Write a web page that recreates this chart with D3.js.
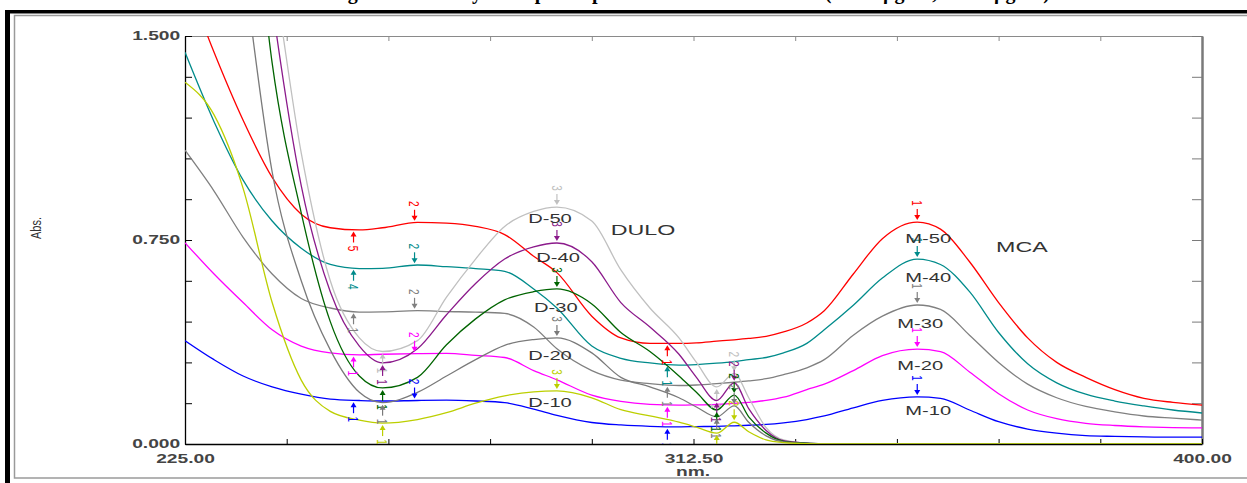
<!DOCTYPE html>
<html>
<head>
<meta charset="utf-8">
<script src="https://cdn.jsdelivr.net/npm/d3@7"></script>
<style>
  body { margin: 0; background: #fff; }
  svg { display: block; }
</style>
</head>
<body>
<div id="chart"></div>
<script>
// wavelengths (nm) shared by every spectrum
var wavelengths = [225,230,235,240,245,250,255,259,265,270,275,280,285,289,295,300,305,310,313,316.5,319.5,322,325,328,332,335,340,345,351,355,360,365,370,375,380,385,390,395,400];

// MCA containing spectra
var m50 = [1.72,1.44,1.19,0.98,0.845,0.795,0.787,0.795,0.815,0.812,0.80,0.77,0.69,0.63,0.47,0.39,0.37,0.37,0.372,0.378,0.383,0.388,0.396,0.412,0.445,0.49,0.625,0.755,0.816,0.79,0.67,0.52,0.39,0.30,0.245,0.20,0.168,0.153,0.143];
var m40 = [1.44,1.185,0.97,0.82,0.72,0.66,0.645,0.646,0.658,0.652,0.645,0.635,0.57,0.50,0.36,0.315,0.298,0.29,0.292,0.297,0.303,0.31,0.318,0.335,0.37,0.42,0.51,0.61,0.68,0.66,0.56,0.41,0.295,0.225,0.183,0.158,0.14,0.125,0.114];
var m30 = [1.08,0.93,0.76,0.625,0.535,0.50,0.485,0.486,0.49,0.487,0.485,0.48,0.43,0.35,0.27,0.235,0.222,0.215,0.217,0.222,0.227,0.232,0.24,0.255,0.28,0.31,0.40,0.47,0.511,0.495,0.40,0.30,0.22,0.17,0.138,0.118,0.103,0.095,0.088];
var m20 = [0.74,0.625,0.52,0.42,0.36,0.335,0.328,0.33,0.332,0.333,0.326,0.318,0.27,0.236,0.18,0.157,0.146,0.143,0.144,0.146,0.149,0.153,0.16,0.172,0.20,0.22,0.27,0.325,0.349,0.34,0.265,0.185,0.125,0.093,0.076,0.068,0.063,0.06,0.059];
var m10 = [0.38,0.31,0.25,0.21,0.183,0.165,0.16,0.158,0.16,0.161,0.158,0.152,0.128,0.105,0.079,0.07,0.065,0.063,0.064,0.065,0.067,0.069,0.072,0.078,0.09,0.103,0.133,0.16,0.173,0.168,0.125,0.082,0.055,0.04,0.031,0.028,0.026,0.025,0.025];

// DULO containing spectra
var d50 = [3.5,2.9,2.3,1.76,1.07,0.60,0.39,0.34,0.38,0.54,0.68,0.80,0.855,0.871,0.82,0.64,0.50,0.39,0.30,0.21,0.26,0.17,0.06,0.015,0.003,0.001,0,0,0,0,0,0,0,0,0,0,0,0,0];
var d40 = [4,3.3,2.5,1.62,0.95,0.56,0.36,0.298,0.35,0.475,0.59,0.68,0.725,0.739,0.67,0.52,0.43,0.33,0.245,0.16,0.225,0.13,0.05,0.012,0.003,0.001,0,0,0,0,0,0,0,0,0,0,0,0,0];
var d30 = [4,3.2,2.4,1.40,0.85,0.45,0.25,0.206,0.245,0.365,0.46,0.53,0.56,0.57,0.515,0.41,0.34,0.25,0.19,0.125,0.18,0.10,0.04,0.01,0.003,0.001,0,0,0,0,0,0,0,0,0,0,0,0,0];
var d20 = [3.5,2.7,1.78,1.0,0.6,0.346,0.19,0.152,0.19,0.25,0.31,0.363,0.384,0.39,0.335,0.245,0.21,0.17,0.136,0.10,0.14,0.08,0.03,0.008,0.002,0.001,0,0,0,0,0,0,0,0,0,0,0,0,0];
var d10 = [1.33,1.21,0.94,0.52,0.235,0.12,0.088,0.077,0.09,0.115,0.15,0.177,0.192,0.195,0.17,0.126,0.103,0.08,0.062,0.04,0.08,0.045,0.015,0.005,0.001,0,0,0,0,0,0,0,0,0,0,0,0,0,0];

var seriesNames = ["M-50","M-40","M-30","M-20","M-10","D-50","D-40","D-30","D-20","D-10"];
var seriesValues = [m50, m40, m30, m20, m10, d50, d40, d30, d20, d10];
var seriesColors = ["#ff0000","#008b8b","#808080","#ff00ff","#0000ff","#c0c0c0","#8b1a8b","#006400","#7a7a7a","#bccf00"];

// peak / valley picks (nm) and their pick numbers
var mPeakNm = [264.5, 351];
var mValleyNm = [254, 308];
var dPeakNm = [289, 319.5];
var dValleyNm = [259, 316.5];
var mValleyLabels = [["5","1"],["4","1"],["1","1"],["1","1"],["1","1"]];
var mPeakLabels = ["2","1"];
var dValleyLabels = ["1","1"];
var dPeakLabels = ["3","2"];

// axis ticks
var xTicks = [225,242.5,260,277.5,295,312.5,330,347.5,365,382.5,400];
var xLabels = [225,312.5,400];
var yTicks = [0,0.15,0.3,0.45,0.6,0.75,0.9,1.05,1.2,1.35,1.5];
var yLabels = [0,0.75,1.5];

// text annotations (nm, Abs)
var noteTexts = ["D-50","D-40","D-30","D-20","D-10","DULO","M-50","M-40","M-30","M-20","M-10","MCA"];
var noteNm = [287.8,289.2,288.8,287.8,287.8,303.8,352.9,352.9,351.5,351.5,352.9,369.0];
var noteAbs = [0.8125,0.669,0.485,0.309,0.136,0.768,0.739,0.596,0.426,0.272,0.107,0.706];

var fontFam = "'Liberation Sans', Arial, sans-serif";
var stretch = 1.55;

var svg = d3.select("#chart").append("svg")
    .attr("width", 1247)
    .attr("height", 483);

// frame and cut-off caption
svg.append("text")
    .attr("x", 690).attr("y", -1)
    .attr("text-anchor", "middle")
    .style("font-family", "'Liberation Serif', 'Times New Roman', serif")
    .style("font-weight", "bold")
    .style("font-size", "20px")
    .text("Figure 3: Overlay absorption spectra of DULO and MCA (10-50 \u00b5g/ml, 10-50 \u00b5g/ml)");
svg.append("rect").attr("x", 5).attr("y", 10).attr("width", 1242).attr("height", 3.5).attr("fill", "#000");
svg.append("rect").attr("x", 5).attr("y", 10).attr("width", 5).attr("height", 473).attr("fill", "#000");
svg.append("rect").attr("x", 14.5).attr("y", 15.5).attr("width", 1240).attr("height", 462.5)
    .attr("fill", "none").attr("stroke", "#9a9a9a").attr("stroke-width", 1.5);

var x = d3.scaleLinear().domain([225, 400]).range([185, 1202]);
var y = d3.scaleLinear().domain([0, 1.5]).range([444, 36]);

var fmtX = d3.format(".2f"), fmtY = d3.format(".3f");

function styleAxis(g, col, w) {
  g.select(".domain").attr("stroke", col).attr("stroke-width", w);
  g.selectAll(".tick line").attr("stroke", col).attr("stroke-width", 1);
  g.selectAll("text")
    .attr("fill", "#444")
    .style("font-family", fontFam)
    .style("font-weight", "bold")
    .style("font-size", "12px")
    .attr("transform", "scale(1.6,1)");
}

svg.append("g")
    .attr("transform", "translate(0,36)")
    .call(d3.axisTop(x).tickValues(xTicks).tickSizeInner(-5).tickSizeOuter(0).tickFormat(""))
    .call(g => styleAxis(g, "#8a8a8a", 1.2));

svg.append("g")
    .attr("transform", "translate(1202,0)")
    .call(d3.axisRight(y).tickValues(yTicks).tickSizeInner(-10).tickSizeOuter(0).tickFormat(""))
    .call(g => styleAxis(g, "#7a7a7a", 2.5));

svg.append("g")
    .attr("transform", "translate(0,444)")
    .call(d3.axisBottom(x).tickValues(xTicks).tickSizeInner(-5).tickSizeOuter(0).tickPadding(10)
      .tickFormat(d => xLabels.indexOf(d) >= 0 ? fmtX(d) : ""))
    .call(g => styleAxis(g, "#000", 1.3));

svg.append("g")
    .attr("transform", "translate(185,0)")
    .call(d3.axisLeft(y).tickValues(yTicks).tickSizeInner(-7).tickSizeOuter(0).tickPadding(3)
      .tickFormat(d => yLabels.indexOf(d) >= 0 ? fmtY(d) : ""))
    .call(g => styleAxis(g, "#000", 1.3));

svg.append("text")
    .attr("transform", "translate(693,476) scale(1.6,1)")
    .attr("text-anchor", "middle")
    .attr("fill", "#444")
    .style("font-family", fontFam)
    .style("font-weight", "bold")
    .style("font-size", "12px")
    .text("nm.");

svg.append("text")
    .attr("transform", "translate(41,228) scale(1.4,1) rotate(-90)")
    .attr("text-anchor", "middle")
    .attr("fill", "#333")
    .style("font-family", fontFam)
    .style("font-size", "11px")
    .text("Abs.");

// spectra
svg.append("clipPath").attr("id", "plotclip")
  .append("rect").attr("x", 185).attr("y", 36).attr("width", 1017).attr("height", 408);

var line = d3.line()
    .x(d => x(d[0]))
    .y(d => y(d[1]))
    .curve(d3.curveMonotoneX);

var plot = svg.append("g").attr("clip-path", "url(#plotclip)");

seriesValues.forEach(function (vals, i) {
  plot.append("path")
      .datum(wavelengths.map((w, k) => [w, vals[k]]))
      .attr("d", line)
      .attr("fill", "none")
      .attr("stroke", seriesColors[i])
      .attr("stroke-width", 1.3);
});

function valueAt(vals, nm) {
  var i = d3.bisectLeft(wavelengths, nm);
  if (wavelengths[i] === nm) return vals[i];
  var t = (nm - wavelengths[i - 1]) / (wavelengths[i] - wavelengths[i - 1]);
  return vals[i - 1] + t * (vals[i] - vals[i - 1]);
}

// pick arrow: peaks get a down arrow from above, valleys an up arrow from below
function drawPick(nm, vals, kind, label, color) {
  var xp = x(nm), yp = y(valueAt(vals, nm));
  var dir = kind == "peak" ? -1 : 1;
  var tip = yp + dir * 2;
  var g = plot.append("g").attr("fill", color).attr("stroke", color);
  g.append("line")
      .attr("x1", xp).attr("x2", xp)
      .attr("y1", tip + dir * 4).attr("y2", tip + dir * 11)
      .attr("stroke-width", 1.2);
  g.append("path")
      .attr("d", "M" + (xp - 3) + "," + (tip + dir * 5) + "L" + (xp + 3) + "," + (tip + dir * 5) + "L" + xp + "," + tip + "Z")
      .attr("stroke", "none");
  if (label) {
    g.append("text")
        .attr("transform", "translate(" + xp + "," + (tip + dir * 17) + ") scale(1.5,1) rotate(90)")
        .attr("text-anchor", "middle")
        .attr("dy", "0.35em")
        .attr("stroke", "none")
        .style("font-family", fontFam)
        .style("font-size", "10px")
        .text(label);
  }
}

seriesValues.forEach(function (vals, i) {
  var col = seriesColors[i];
  if (i < 5) {
    mPeakNm.forEach((nm, k) => drawPick(nm, vals, "peak", mPeakLabels[k], col));
    mValleyNm.forEach((nm, k) => drawPick(nm, vals, "valley", mValleyLabels[i][k], col));
  } else {
    dPeakNm.forEach((nm, k) => drawPick(nm, vals, "peak", dPeakLabels[k], col));
    dValleyNm.forEach((nm, k) => drawPick(nm, vals, "valley", dValleyLabels[k], col));
  }
});

// series labels
noteTexts.forEach(function (t, i) {
  var big = (t == "DULO" || t == "MCA");
  svg.append("text")
      .attr("transform", "translate(" + x(noteNm[i]) + "," + y(noteAbs[i]) + ") scale(" + stretch + ",1)")
      .attr("text-anchor", "middle")
      .attr("fill", "#333")
      .style("font-family", fontFam)
      .style("font-size", big ? "15px" : "13px")
      .text(t);
});
</script>
</body>
</html>
